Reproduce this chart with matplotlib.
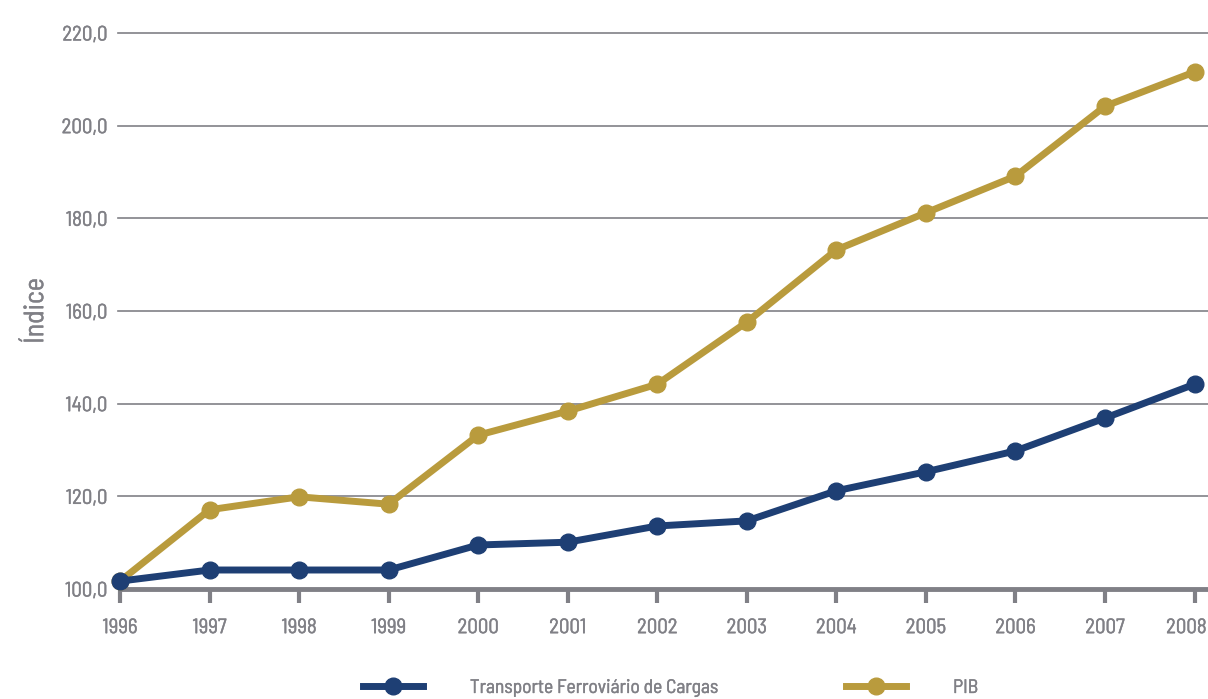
import matplotlib
matplotlib.use("Agg")
import matplotlib.pyplot as plt
from matplotlib import font_manager as fm
import matplotlib.patheffects as pe
import matplotlib.transforms as mtransforms

years = [1996, 1997, 1998, 1999, 2000, 2001, 2002, 2003, 2004, 2005, 2006, 2007, 2008]
transporte = [101.7, 104.1, 104.1, 104.1, 109.5, 110.1, 113.6, 114.7, 121.2, 125.3, 129.8, 136.9, 144.2]
pib = [101.7, 117.1, 119.9, 118.3, 133.2, 138.4, 144.2, 157.6, 173.2, 181.2, 189.1, 204.2, 211.6]
yticks = [100, 120, 140, 160, 180, 200, 220]
ytick_labels = ["100,0", "120,0", "140,0", "160,0", "180,0", "200,0", "220,0"]

# find a condensed/narrow sans font if one is installed
cand = None
for f in fm.fontManager.ttflist:
    nm = f.name.lower()
    fn = f.fname.lower()
    if f.style != "normal" or f.weight not in (400, "normal", "regular"):
        continue
    if "bold" in fn or "italic" in fn or "oblique" in fn or "mono" in fn or "serif" in nm and "sans" not in nm:
        continue
    if ("narrow" in nm or "condensed" in nm or "narrow" in fn or "condensed" in fn
            or f.stretch in ("condensed", "semi-condensed", "extra-condensed")):
        if "cjk" in nm:
            continue
        if "extracondensed" in fn or "extra-condensed" in str(f.stretch):
            score = 1
        elif "semicondensed" in fn:
            score = 3
        else:
            score = 2
        if cand is None or score > cand[0]:
            cand = (score, f.fname)

def fp(size):
    if cand:
        return fm.FontProperties(fname=cand[1], size=size)
    return fm.FontProperties(family="DejaVu Sans", size=size)

gray = "#808086"
navy = "#1e3f74"
gold = "#b99b3d"
bold_fx = [pe.withStroke(linewidth=0.3, foreground=gray)]

fig = plt.figure(figsize=(12.08, 6.99), dpi=100)
ax = fig.add_axes([120/1208, 1-589/699, 1-120/1208, (589-33)/699])

for y in yticks[1:]:
    ax.axhline(y, color=gray, lw=1.2, xmin=-0.002, xmax=1, clip_on=False, zorder=1)

ax.plot(years, transporte, color=navy, lw=5, marker="o", ms=12, zorder=4, clip_on=False,
        label="Transporte Ferroviário de Cargas")
ax.plot(years, pib, color=gold, lw=5, marker="o", ms=12, zorder=3, clip_on=False, label="PIB")

ax.set_xlim(1996, 2008.15)
ax.set_ylim(100, 220)
ax.set_xticks(years)
ax.set_xticklabels([str(y) for y in years], fontproperties=fp(15))
ax.set_yticks(yticks)
ax.set_yticklabels(ytick_labels, fontproperties=fp(15))
for s in ["top", "right", "left"]:
    ax.spines[s].set_visible(False)
ax.spines["bottom"].set_color(gray)
ax.spines["bottom"].set_linewidth(3.5)
ax.spines["bottom"].set_zorder(2)
ax.tick_params(axis="x", direction="out", length=10, width=3, color=gray,
               labelcolor=gray, pad=11)
ax.tick_params(axis="y", length=0, labelcolor=gray, pad=9)
ax.set_ylabel("Índice", color=gray, fontproperties=fp(20), path_effects=bold_fx)
ax.yaxis.set_label_coords(-0.066, 0.5)
for t in ax.get_xticklabels() + ax.get_yticklabels():
    t.set_path_effects(bold_fx)

leg = ax.legend(loc="center", bbox_to_anchor=(0.506, -0.178), ncol=2, frameon=False,
                prop=fp(14), handlelength=3.1, columnspacing=6.6, handletextpad=2.4,
                labelcolor=gray)
for t in leg.get_texts():
    t.set_path_effects(bold_fx)

fig.canvas.draw()
lbls = ax.get_xticklabels()
lbls[-1].set_horizontalalignment("right")
lbls[-1].set_transform(lbls[-1].get_transform() + mtransforms.ScaledTranslation(12/100, 0, fig.dpi_scale_trans))

fig.savefig("out.png", dpi=100)
